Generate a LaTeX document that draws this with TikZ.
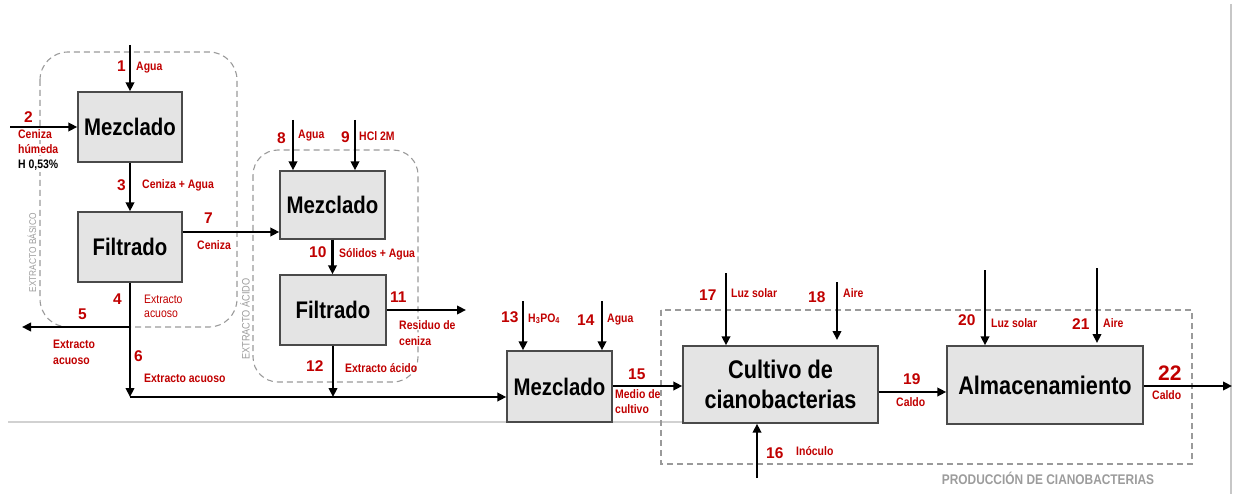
\documentclass[tikz,border=0pt]{standalone}
\usepackage{fontspec}
\setmainfont{Liberation Sans}
\newfontfamily\cond{Liberation Sans}[FakeStretch=0.85]
\usetikzlibrary{arrows.meta}
\definecolor{lbl}{HTML}{C00000}
\definecolor{boxfill}{HTML}{E4E4E4}
\definecolor{boxline}{HTML}{4A4A4A}
\definecolor{dashgray}{HTML}{9A9A9A}
\definecolor{txtgray}{HTML}{9C9C9C}
\tikzset{
  procbox/.style={draw=boxline, line width=1.4pt, fill=boxfill, inner sep=0pt, font=\cond\bfseries\fontsize{24}{28}\selectfont},
  bigbox/.style={procbox, font=\cond\bfseries\fontsize{25.5}{30}\selectfont, align=center},
  arr/.style={line width=2.6pt, -{Triangle[length=9pt,width=8.5pt]}},
  plain/.style={line width=2.6pt},
  grpbox/.style={draw=dashgray, line width=1.1pt, dash pattern=on 6pt off 4pt},
  num/.style={text=lbl, anchor=base west, inner sep=0pt, font=\bfseries\fontsize{15.5}{18}\selectfont},
  lab/.style={text=lbl, anchor=base west, inner sep=0pt, font=\cond\bfseries\fontsize{12.3}{14}\selectfont},
  labreg/.style={lab, font=\cond\fontsize{12.3}{14}\selectfont},
  grplab/.style={text=txtgray, inner sep=0pt}
}
\begin{document}
\begin{tikzpicture}[x=1pt,y=-1pt]
\useasboundingbox (0,0) rectangle (1238,494);
% background guide lines
\draw[color=black!18, line width=1.5pt] (8,422) -- (683,422);
\draw[color=black!22, line width=1.5pt] (1231,4) -- (1231,494);
% group boxes
\draw[grpbox, rounded corners=28pt] (40,52) rectangle (237,327);
\draw[grpbox, rounded corners=25pt] (253,150) rectangle (418,382);
\draw[grpbox] (661,310) rectangle (1192,464);
\node[grplab, rotate=90, font=\cond\fontsize{9.8}{12}\selectfont] (gb) at (32,253) {EXTRACTO BÁSICO};
\node[grplab, rotate=90, font=\cond\fontsize{10.8}{12}\selectfont] (ga) at (245,319) {EXTRACTO ÁCIDO};
\node[grplab, font=\cond\bfseries\fontsize{14}{16}\selectfont] (gp) at (1048,478) {PRODUCCIÓN DE CIANOBACTERIAS};
% process boxes
\node[procbox, minimum width=104pt, minimum height=70pt] (mez1) at (130,127) {Mezclado};
\node[procbox, minimum width=104pt, minimum height=70pt] (fil1) at (130,247) {Filtrado};
\node[procbox, minimum width=105pt, minimum height=68pt] (mez2) at (332.5,205) {Mezclado};
\node[procbox, minimum width=106pt, minimum height=70pt] (fil2) at (333,310) {Filtrado};
\node[procbox, minimum width=105pt, minimum height=71pt] (mez3) at (559.5,386.5) {Mezclado};
\node[bigbox, minimum width=195pt, minimum height=77pt] (cult) at (780.5,384.5) {Cultivo de\\cianobacterias};
\node[bigbox, minimum width=196pt, minimum height=78pt] (alm) at (1045,385) {Almacenamiento};
% free ends / junctions
\coordinate (in1) at (130,45);
\coordinate (in2) at (10,127);
\coordinate (j7) at (210,232);
\coordinate (j5) at (130,327);
\coordinate (out5) at (22,327);
\coordinate (j6) at (130,397);
\coordinate (in8) at (293,120);
\coordinate (in9) at (355,120);
\coordinate (out11) at (466,310);
\coordinate (j12) at (333,397);
\coordinate (in13) at (523,301);
\coordinate (in14) at (602,301);
\coordinate (j15) at (640,386);
\coordinate (in17) at (726,273);
\coordinate (in18) at (837,282);
\coordinate (e18) at (837,340);
\coordinate (in16) at (757,478);
\coordinate (j19) at (910,392);
\coordinate (in20) at (985,270);
\coordinate (in21) at (1097,268);
\coordinate (e21) at (1097,343);
\coordinate (out22) at (1232,386);
% connectors
\draw[arr] (in1) -- (mez1.north);
\draw[arr] (in2) -- (mez1.west);
\draw[arr] (mez1.south) -- (fil1.north);
\draw[arr] (j7 -| fil1.east) -- (j7 -| mez2.west);
\draw[arr] (j5) -- (out5);
\draw[arr] (fil1.south) -- (j6);
\draw[arr] (j6) -- (j6 -| mez3.west);
\draw[arr] (in8) -- (in8 |- mez2.north);
\draw[arr] (in9) -- (in9 |- mez2.north);
\draw[arr] (mez2.south) -- (mez2.south |- fil2.north);
\draw[arr] (fil2.east) -- (out11);
\draw[arr] (fil2.south) -- (j12);
\draw[arr] (in13) -- (in13 |- mez3.north);
\draw[arr] (in14) -- (in14 |- mez3.north);
\draw[arr] (j15 -| mez3.east) -- (j15 -| cult.west);
\draw[arr] (in17) -- (in17 |- cult.north);
\draw[arr] (in18) -- (e18);
\draw[arr] (in16) -- (in16 |- cult.south);
\draw[arr] (j19 -| cult.east) -- (j19 -| alm.west);
\draw[arr] (in20) -- (in20 |- alm.north);
\draw[arr] (in21) -- (e21);
\draw[arr] (out22 -| alm.east) -- (out22);
% stream numbers
\node[num] (n1) at (117,72) {1};
\node[num] (n2) at (24,123) {2};
\node[num] (n3) at (117,191) {3};
\node[num] (n4) at (113,304) {4};
\node[num] (n5) at (78,319) {5};
\node[num] (n6) at (134,361) {6};
\node[num] (n7) at (204,224) {7};
\node[num] (n8) at (277,144) {8};
\node[num] (n9) at (341,143) {9};
\node[num] (n10) at (309,258) {10};
\node[num] (n11) at (390,302) {11};
\node[num] (n12) at (306,371) {12};
\node[num] (n13) at (501,322) {13};
\node[num] (n14) at (577,325) {14};
\node[num] (n15) at (628,379) {15};
\node[num] (n16) at (766,458) {16};
\node[num] (n17) at (699,300) {17};
\node[num] (n18) at (808,302) {18};
\node[num] (n19) at (903,384) {19};
\node[num] (n20) at (958,325) {20};
\node[num] (n21) at (1072,329) {21};
\node[num, font=\bfseries\fontsize{21}{24}\selectfont] (n22) at (1158,380) {22};
% stream labels
\node[lab] (l1) at (136,71) {Agua};
\node[lab, fill=white, inner sep=1pt] (l2a) at (17,139) {Ceniza};
\node[lab, fill=white, inner sep=1pt] (l2b) at (17,154) {húmeda};
\node[lab, fill=white, inner sep=1pt, text=black] (l2c) at (17,169) {H 0,53\%};
\node[lab] (l3) at (142,189) {Ceniza + Agua};
\node[labreg] (l4a) at (144,303) {Extracto};
\node[labreg] (l4b) at (144,317) {acuoso};
\node[lab] (l5a) at (53,348) {Extracto};
\node[lab] (l5b) at (53,364) {acuoso};
\node[lab] (l6) at (144,382) {Extracto acuoso};
\node[lab] (l7) at (197,250) {Ceniza};
\node[lab] (l8) at (298,139) {Agua};
\node[lab] (l9) at (359,141) {HCl 2M};
\node[lab] (l10) at (339,257) {Sólidos + Agua};
\node[lab, fill=white, inner sep=1pt] (l11a) at (398,329) {Residuo de};
\node[lab, fill=white, inner sep=1pt] (l11b) at (398,345) {ceniza};
\node[lab] (l12) at (345,372) {Extracto ácido};
\node[lab] (l13) at (528,322) {H\textsubscript{3}PO\textsubscript{4}};
\node[lab] (l14) at (607,322) {Agua};
\node[lab] (l15a) at (615,398) {Medio de};
\node[lab] (l15b) at (615,413) {cultivo};
\node[lab] (l16) at (796,455) {Inóculo};
\node[lab] (l17) at (731,297) {Luz solar};
\node[lab] (l18) at (843,297) {Aire};
\node[lab] (l19) at (896,406) {Caldo};
\node[lab] (l20) at (991,327) {Luz solar};
\node[lab] (l21) at (1103,327) {Aire};
\node[lab] (l22) at (1152,399) {Caldo};
\end{tikzpicture}
\end{document}
